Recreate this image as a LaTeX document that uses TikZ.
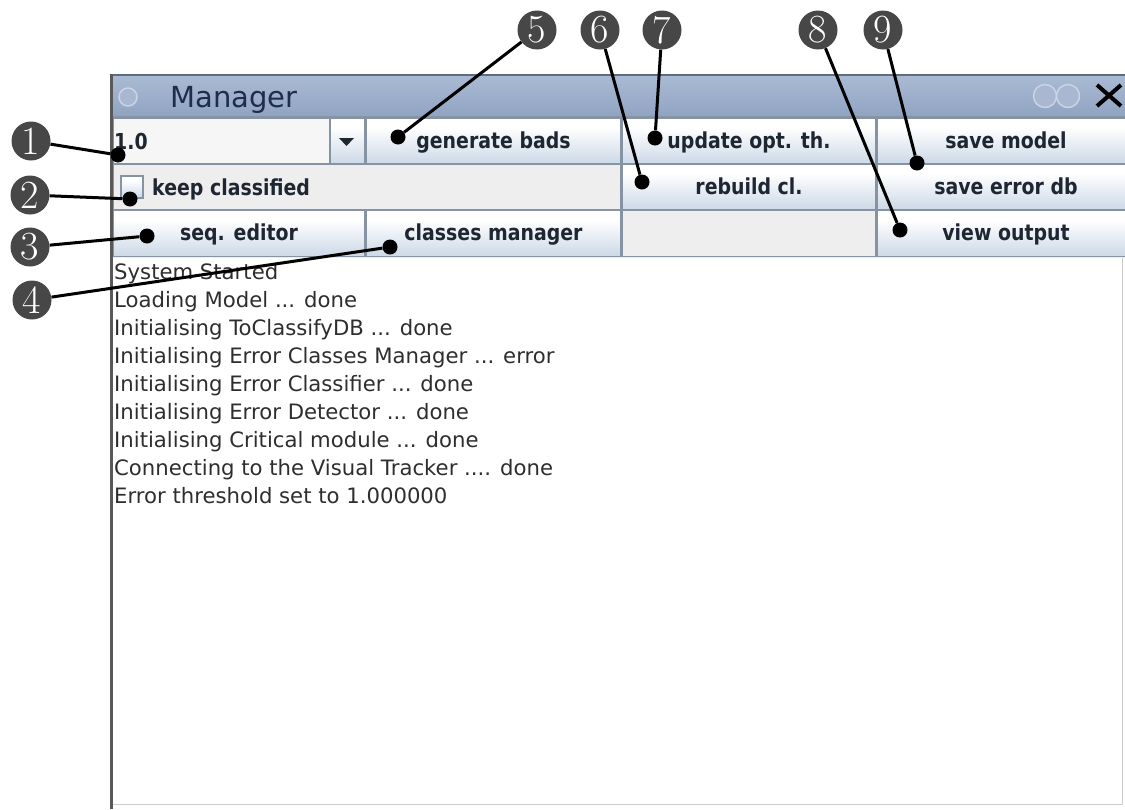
\documentclass[tikz,border=0pt]{standalone}
\usepackage{fontspec}
\newfontfamily\uifont{DejaVu Sans}
\newfontfamily\btnfont[FakeStretch=0.86]{DejaVu Sans}

\definecolor{panel}{HTML}{EEEEEE}
\definecolor{frame}{HTML}{8593A3}
\definecolor{btntop}{HTML}{DCE5F0}
\definecolor{btnlow}{HTML}{D2DDEA}
\definecolor{btnbot}{HTML}{B6C7DC}
\definecolor{titletop}{HTML}{ABBBD4}
\definecolor{titlebot}{HTML}{8FA3C2}
\definecolor{titleline}{HTML}{5E6B80}
\definecolor{titleink}{HTML}{1F2D4A}
\definecolor{callfill}{HTML}{474747}
\definecolor{logink}{HTML}{2E2E2E}
\definecolor{btnink}{HTML}{1E2632}
\definecolor{knob}{HTML}{A9B8D0}
\definecolor{knobrim}{HTML}{C9D4E4}

\pgfdeclareverticalshading{btnshade}{100bp}{%
  color(0bp)=(btnbot); color(30bp)=(btnlow); color(65bp)=(white);
  color(85bp)=(white); color(100bp)=(btntop)}

\begin{document}
\begin{tikzpicture}[x=1pt,y=-1pt,
  btn/.style={draw=frame, line width=1.2pt, shading=btnshade,
    minimum height=46pt, inner sep=0pt, text=btnink,
    text height=17pt, text depth=3pt,
    font=\btnfont\bfseries\fontsize{22}{22}\selectfont},
  cell/.style={draw=frame, line width=1.2pt, fill=panel,
    minimum height=46pt, inner sep=0pt},
  logline/.style={anchor=base west, inner sep=0pt, text=logink,
    font=\uifont\fontsize{21.2}{21.2}\selectfont},
  callout/.style={circle, fill=callfill, text=white, inner sep=0pt,
    minimum size=39pt, font=\fontsize{40}{40}\selectfont},
  tipdot/.style={circle, fill=black, inner sep=0pt, minimum size=15pt},
  lead/.style={line width=3pt, black}]

\useasboundingbox (0,0) rectangle (1125,809);
\fill[white] (0,0) rectangle (1125,809);

\begin{scope}
\clip (0,0) rectangle (1125,809);

% window body and title bar
\fill[panel] (111,74) rectangle (1140,258);
\shade[top color=titletop, bottom color=titlebot] (111,74) rectangle (1140,117);
\draw[titleline, line width=2pt] (111,75) -- (1140,75);
\draw[frame, line width=1.2pt] (111,117) -- (1140,117);
\node[circle, fill=knob, draw=knobrim, line width=1.5pt, minimum size=18pt, inner sep=0pt] (menuknob) at (128,97) {};
\node[anchor=base west, inner sep=0pt, text=titleink,
      font=\uifont\fontsize{29}{29}\selectfont] (title) at (170,107) {Manager};
\node[circle, fill=knob, draw=knobrim, line width=1.5pt, minimum size=23pt, inner sep=0pt] (iconify) at (1045,96) {};
\node[circle, fill=knob, draw=knobrim, line width=1.5pt, minimum size=23pt, inner sep=0pt] (maximize) at (1068,96) {};
\draw[black, line width=4pt] (1097,85) -- (1121,106) (1097,106) -- (1121,85);

% row 1: threshold box and buttons
\node[cell, fill=white!50!panel, minimum width=217pt] (combo) at (221.5,141) {};
\node[anchor=base west, inner sep=0pt, text=btnink,
      font=\btnfont\bfseries\fontsize{22}{22}\selectfont] (value) at (114,149) {1.0};
\node[btn, minimum width=35pt] (drop) at (347.5,141) {};
\fill[btnink] (339,138) -- (354,138) -- (346.5,146) -- cycle;
\node[btn, minimum width=255pt] (gen) at (493.5,141) {generate bads};
\node[btn, minimum width=254pt] (upd) at (749,141) {update opt. th.};
\node[btn, minimum width=258pt] (savem) at (1006,141) {save model};

% row 2
\node[cell, minimum width=508pt] (keeprow) at (367,187) {};
\node[draw=frame, line width=1.2pt, shading=btnshade, minimum size=22pt, inner sep=0pt] (check) at (132,187) {};
\node[anchor=base west, inner sep=0pt, text=btnink,
      font=\btnfont\bfseries\fontsize{22}{22}\selectfont] (keep) at (152,195) {keep classified};
\node[btn, minimum width=254pt] (rebuild) at (749,187) {rebuild cl.};
\node[btn, minimum width=258pt] (saveerr) at (1006,187) {save error db};

% row 3
\node[btn, minimum width=252pt] (seq) at (239,233.5) {seq. editor};
\node[btn, minimum width=255pt] (classes) at (493.5,233.5) {classes manager};
\node[cell, minimum width=254pt] (blank) at (749,233.5) {};
\node[btn, minimum width=258pt] (view) at (1006,233.5) {view output};

% output log
\fill[white] (113,258) rectangle (1123,805);
\draw[gray!40, line width=1pt] (1122,258) -- (1122,805) (113,804) -- (1123,804);
\draw[gray!70!black, line width=2.5pt] (111.5,74) -- (111.5,809);
\end{scope}

\node[logline] (l1) at (114,279) {System Started};
\node[logline] (l2) at (114,307) {Loading Model ... done};
\node[logline] (l3) at (114,335) {Initialising ToClassifyDB ... done};
\node[logline] (l4) at (114,363) {Initialising Error Classes Manager ... error};
\node[logline] (l5) at (114,391) {Initialising Error Classifier ... done};
\node[logline] (l6) at (114,419) {Initialising Error Detector ... done};
\node[logline] (l7) at (114,447) {Initialising Critical module ... done};
\node[logline] (l8) at (114,475) {Connecting to the Visual Tracker .... done};
\node[logline] (l9) at (114,503) {Error threshold set to 1.000000};

% numbered callouts
\node[callout] (c1) at (31,141) {1};
\node[callout] (c2) at (30,195) {2};
\node[callout] (c3) at (30,247) {3};
\node[callout] (c4) at (32,300) {4};
\node[callout] (c5) at (537,30) {5};
\node[callout] (c6) at (600,30) {6};
\node[callout] (c7) at (662,30) {7};
\node[callout] (c8) at (818,30) {8};
\node[callout] (c9) at (883,30) {9};

\node[tipdot] (d1) at (118,155) {};
\node[tipdot] (d2) at (130,199) {};
\node[tipdot] (d3) at (147,236) {};
\node[tipdot] (d4) at (390,247) {};
\node[tipdot] (d5) at (398,137) {};
\node[tipdot] (d6) at (642,182) {};
\node[tipdot] (d7) at (655,138) {};
\node[tipdot] (d8) at (900,230) {};
\node[tipdot] (d9) at (917,163) {};

\foreach \k in {1,...,9} \draw[lead] (c\k) -- (d\k);
\end{tikzpicture}
\end{document}
